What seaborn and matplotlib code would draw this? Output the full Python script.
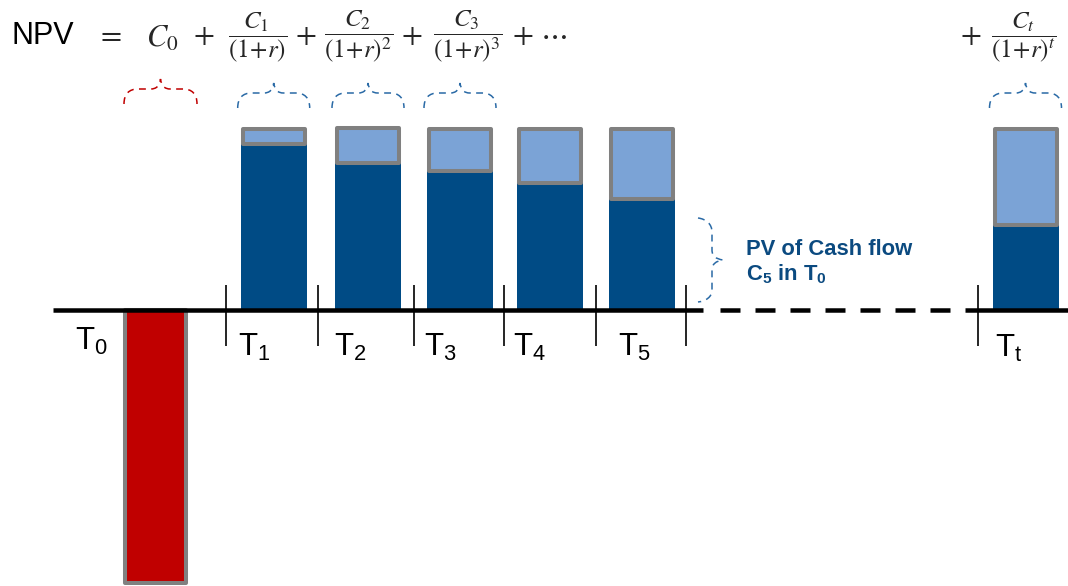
import numpy as np
import matplotlib
matplotlib.use("Agg")
import matplotlib.pyplot as plt
from matplotlib.path import Path
from matplotlib.patches import PathPatch
import seaborn as sns

# ---------------- values ----------------
initial_outlay = [-150.5]                         # C0, cash out at T0
nominal_cf = [100, 100.6, 100, 100, 100, 100]      # C1..C5, Ct (undiscounted)
present_value = [91.7, 81.1, 76.5, 70.0, 61.4, 47.0]  # PV of each cash flow in T0
period_labels = [r"T$_\mathregular{0}$", r"T$_\mathregular{1}$", r"T$_\mathregular{2}$",
                 r"T$_\mathregular{3}$", r"T$_\mathregular{4}$", r"T$_\mathregular{5}$",
                 r"T$_\mathregular{t}$"]
fractions = [r"$\dfrac{C_1}{(1\!+\!r)}$", r"$\dfrac{C_2}{(1\!+\!r)^2}$",
             r"$\dfrac{C_3}{(1\!+\!r)^3}$", r"$\dfrac{C_t}{(1\!+\!r)^t}$"]

# ---------------- layout (canvas pixels) ----------------
W, H = 1068, 586
BASE_PX = 310          # vertical position of the time axis
PX_PER_UNIT = 1.813    # vertical scale of the cash-flow values
outlay_x = [155.8]
bar_x = [273.7, 368, 460, 550, 641.5, 1025.5]
tick_x = [226, 318, 414, 504, 596, 686, 978]
label_x = [75, 238, 334, 424, 513, 618, 995]
label_y = [350, 356, 356, 356, 356, 356, 357]
frac_x = [257.5, 359, 468, 1023.5]
plus_x = [203.5, 306, 412, 523, 970.5]

DARK = "#004B85"
LIGHT = "#7BA3D6"
GRAY = "#808080"
RED = "#C00000"
TXT_BLUE = "#0B4A80"
BRACE_BLUE = "#2A6AA6"

sns.set_style("white")
plt.rcParams["font.family"] = ["Liberation Sans", "DejaVu Sans"]
plt.rcParams["mathtext.fontset"] = "custom"
plt.rcParams["mathtext.rm"] = "Liberation Sans"
plt.rcParams["mathtext.it"] = "Liberation Sans:italic"
plt.rcParams["mathtext.bf"] = "Liberation Sans:bold"

fig = plt.figure(figsize=(W / 100, H / 100), dpi=100)
fig.patch.set_facecolor("white")

# value axes for the bars
ax = fig.add_axes([0, 0, 1, 1])
gap = min(np.diff(bar_x))
discount = [n - p for n, p in zip(nominal_cf, present_value)]

sns.barplot(x=bar_x, y=present_value, native_scale=True, width=66 / gap,
            color=DARK, saturation=1, linewidth=0, edgecolor="none",
            errorbar=None, ax=ax, zorder=2)
sns.barplot(x=bar_x, y=discount, bottom=present_value, native_scale=True,
            width=62 / gap, color=LIGHT, saturation=1, edgecolor=GRAY,
            linewidth=2.9, joinstyle="round", errorbar=None, ax=ax, zorder=3)
sns.barplot(x=outlay_x, y=initial_outlay, native_scale=True, width=61,
            color=RED, saturation=1, edgecolor=GRAY, linewidth=2.9,
            joinstyle="round", errorbar=None, ax=ax, zorder=3)

ax.set_xlim(0, W)
ax.set_ylim(-(H - BASE_PX) / PX_PER_UNIT, BASE_PX / PX_PER_UNIT)
ax.axis("off")

# overlay in canvas pixels for the time axis, braces and formula
ann = fig.add_axes([0, 0, 1, 1])
ann.set_xlim(0, W)
ann.set_ylim(H, 0)
ann.axis("off")
ann.patch.set_alpha(0)

# time axis: solid, dashed gap, solid
lw_axis = 3.24
ann.plot([52.7, 703], [BASE_PX, BASE_PX], color="black", lw=lw_axis, solid_capstyle="butt")
ann.plot([720, 950], [BASE_PX, BASE_PX], color="black", lw=lw_axis,
         linestyle=(0, (14.4 / lw_axis, 10.8 / lw_axis)), dash_capstyle="butt")
ann.plot([965, W], [BASE_PX, BASE_PX], color="black", lw=lw_axis, solid_capstyle="butt")
ann.vlines(tick_x, 285, 346, color="black", lw=1.2)

for lx, ly, lab in zip(label_x, label_y, period_labels):
    ann.text(lx, ly, lab, fontsize=22.5, ha="left", va="baseline", color="black")


def brace_h(x0, x1, y_end, y_mid, y_tip, color):
    xc = (x0 + x1) / 2
    verts = [(x0, y_end), (x0, y_mid + 5), (x0 + 5, y_mid), (x0 + 14, y_mid),
             (xc - 10, y_mid),
             (xc - 4, y_mid), (xc - 1, y_mid - 3), (xc, y_tip),
             (xc + 1, y_mid - 3), (xc + 4, y_mid), (xc + 10, y_mid),
             (x1 - 14, y_mid),
             (x1 - 5, y_mid), (x1, y_mid + 5), (x1, y_end)]
    codes = [Path.MOVETO, Path.CURVE4, Path.CURVE4, Path.CURVE4, Path.LINETO,
             Path.CURVE4, Path.CURVE4, Path.CURVE4, Path.CURVE4, Path.CURVE4, Path.CURVE4,
             Path.LINETO, Path.CURVE4, Path.CURVE4, Path.CURVE4]
    ann.add_patch(PathPatch(Path(verts, codes), fill=False, edgecolor=color,
                            lw=1.1, linestyle=(0, (4.5, 3.5))))


brace_h(124, 197, 104, 89, 79, RED)
for bx in bar_x[:3] + bar_x[5:]:
    brace_h(bx - 36, bx + 36, 108, 93, 83, BRACE_BLUE)

# vertical brace next to the T5 bar
v_verts = [(698, 218), (706, 219), (712, 224), (712, 232),
           (712, 250),
           (712, 256), (716, 259), (723, 260),
           (716, 261), (712, 264), (712, 270),
           (712, 290),
           (712, 297), (706, 301), (698, 302)]
v_codes = [Path.MOVETO, Path.CURVE4, Path.CURVE4, Path.CURVE4, Path.LINETO,
           Path.CURVE4, Path.CURVE4, Path.CURVE4, Path.CURVE4, Path.CURVE4, Path.CURVE4,
           Path.LINETO, Path.CURVE4, Path.CURVE4, Path.CURVE4]
ann.add_patch(PathPatch(Path(v_verts, v_codes), fill=False, edgecolor=BRACE_BLUE,
                        lw=1.1, linestyle=(0, (4.5, 3.5))))

ann.text(746, 255, "PV of Cash flow", fontsize=15.8, fontweight="bold", color=TXT_BLUE,
         ha="left", va="baseline")
ann.text(746, 280, r"$\mathbf{C}_\mathbf{5}$ in $\mathbf{T}_\mathbf{0}$", fontsize=15.8,
         fontweight="bold", color=TXT_BLUE, ha="left", va="baseline")

# NPV formula
ann.text(11, 44, "NPV", fontsize=22, ha="left", va="baseline", color="black")
ann.text(109, 35, r"$=$", fontsize=22, ha="center", va="center", math_fontfamily="stix")
ann.text(146, 47, r"$C_0$", fontsize=22, ha="left", va="baseline", math_fontfamily="stix")
for px in plus_x:
    ann.text(px, 36, r"$+$", fontsize=22, ha="center", va="center", math_fontfamily="stix")
ann.text(553, 35, r"$\cdots$", fontsize=22, ha="center", va="center", math_fontfamily="stix")
for fx, fr in zip(frac_x, fractions):
    ann.text(fx, 37, fr, fontsize=18, ha="center", va="center", math_fontfamily="stix")

fig.savefig("out.png", dpi=100, facecolor="white")
